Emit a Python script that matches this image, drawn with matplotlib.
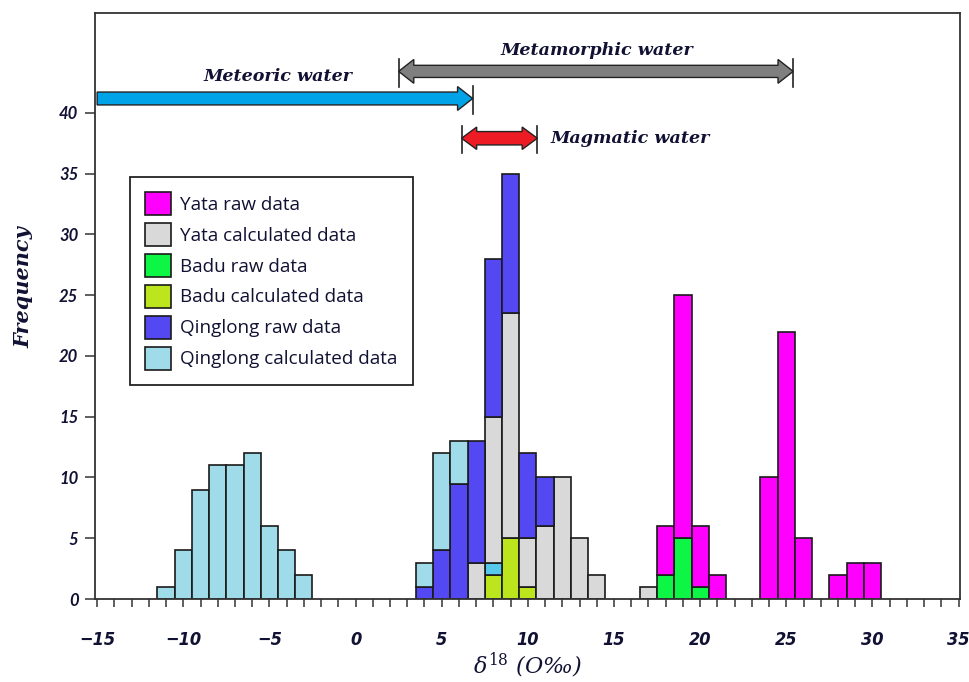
import matplotlib.pyplot as plt
import numpy as np
from matplotlib.patches import Polygon

# bin centres (delta 18O, permil) and counts
bins = np.arange(-12, 32)

yata_raw_x = [18, 19, 20, 21, 24, 25, 26, 28, 29, 30]
yata_raw = [4, 20, 5, 2, 10, 22, 5, 2, 3, 3]
yata_calc_x = [7, 8, 9, 10, 11, 12, 13, 14, 17]
yata_calc = [3, 12, 18.5, 4, 6, 10, 5, 2, 1]
badu_raw_x = [18, 19, 20]
badu_raw = [2, 5, 1]
badu_calc_x = [8, 9, 10]
badu_calc = [2, 5, 1]
qing_raw_x = [4, 5, 6, 7, 8, 9, 10, 11]
qing_raw = [1, 4, 9.5, 10, 13, 11.5, 7, 4]
qing_calc_x = [-11, -10, -9, -8, -7, -6, -5, -4, -3, 4, 5, 6]
qing_calc = [1, 4, 9, 11, 11, 12, 6, 4, 2, 2, 8, 3.5]
extra_x = [8]          # odd bright-cyan segment in the 8 permil bin
extra = [1]

# fluid source ranges
meteoric = (-15, 6.8)
metamorphic = (2.5, 25.4)
magmatic = (6.15, 10.55)


def on_bins(xs, vals):
    out = np.zeros(len(bins))
    for x, v in zip(xs, vals):
        out[np.where(bins == x)[0][0]] = v
    return out


# stacking order bottom -> top
series = [
    (on_bins(badu_calc_x, badu_calc), '#bde51e', 'Badu calculated data'),
    (on_bins(extra_x, extra), '#55c8ec', None),
    (on_bins(yata_calc_x, yata_calc), '#d9d9d9', 'Yata calculated data'),
    (on_bins(badu_raw_x, badu_raw), '#0df545', 'Badu raw data'),
    (on_bins(qing_raw_x, qing_raw), '#5448f2', 'Qinglong raw data'),
    (on_bins(qing_calc_x, qing_calc), '#a0dbea', 'Qinglong calculated data'),
    (on_bins(yata_raw_x, yata_raw), '#ff00ff', 'Yata raw data'),
]

fig = plt.figure(figsize=(9.7, 6.82), dpi=100)
ax = fig.add_axes([0.098, 0.1217, 0.892, 0.8592])

bottom = np.zeros(len(bins))
handles = {}
for vals, col, lab in series:
    m = vals > 0
    b = ax.bar(bins[m], vals[m], width=1.0, bottom=bottom[m], color=col,
               edgecolor='#1a1a1a', linewidth=1.2, zorder=2)
    if lab:
        handles[lab] = b
    bottom += vals

ax.set_xlim(-15.12, 35.1)
ax.set_ylim(0, 48.2)


def double_arrow(x0, x1, y, body, head, hlen, left, right, color):
    pts = []
    if left:
        pts += [(x0, y), (x0 + hlen, y + head), (x0 + hlen, y + body)]
    else:
        pts += [(x0, y + body)]
    if right:
        pts += [(x1 - hlen, y + body), (x1 - hlen, y + head), (x1, y),
                (x1 - hlen, y - head), (x1 - hlen, y - body)]
    else:
        pts += [(x1, y + body), (x1, y - body)]
    if left:
        pts += [(x0 + hlen, y - body), (x0 + hlen, y - head)]
    else:
        pts += [(x0, y - body)]
    ax.add_patch(Polygon(pts, closed=True, facecolor=color, edgecolor='#222222',
                         linewidth=1.0, zorder=4, clip_on=False))


def end_tick(x, y):
    ax.plot([x, x], [y - 1.25, y + 1.0], color='#222222', lw=1.2, zorder=4,
            clip_on=False)


y_met, y_meta, y_mag = 41.17, 43.4, 37.9
double_arrow(meteoric[0], meteoric[1], y_met, 0.53, 0.98, 0.88, False, True, '#00a2e8')
end_tick(meteoric[1], y_met)
double_arrow(metamorphic[0], metamorphic[1], y_meta, 0.5, 0.98, 0.88, True, True, '#7f7f7f')
end_tick(metamorphic[0], y_meta)
end_tick(metamorphic[1], y_meta)
double_arrow(magmatic[0], magmatic[1], y_mag, 0.55, 0.92, 0.88, True, True, '#ed1c24')
end_tick(magmatic[0], y_mag)
end_tick(magmatic[1], y_mag)

lab_font = dict(family='DejaVu Serif', weight='bold', style='italic',
                fontsize=12.6, color='#111133')
ax.text(-4.5, 43.0, 'Meteoric water', ha='center', va='center', **lab_font)
ax.text(14.0, 45.15, 'Metamorphic water', ha='center', va='center', **lab_font)
ax.text(11.3, 37.9, 'Magmatic water', ha='left', va='center', **lab_font)

# axes styling
for s in ax.spines.values():
    s.set_color('#333333')
    s.set_linewidth(1.3)

ax.set_xticks(np.arange(-15, 36, 5))
ax.set_xticks(np.arange(-15, 36, 1), minor=True)
ax.tick_params(axis='x', which='both', direction='out', length=6, width=1.1,
               color='#333333', pad=17)
ax.set_yticks(np.arange(0, 41, 5))
ax.tick_params(axis='y', direction='out', length=7, width=1.1, color='#333333',
               pad=5)
for t in ax.get_xticklabels():
    t.set_fontfamily('DejaVu Sans')
    t.set_fontstretch('condensed')
    t.set_fontweight('bold')
    t.set_fontstyle('italic')
    t.set_fontsize(13)
    t.set_color('#111133')
for t in ax.get_yticklabels():
    t.set_fontfamily(['Lato', 'DejaVu Sans'])
    t.set_fontweight('bold')
    t.set_fontstyle('italic')
    t.set_fontsize(12)
    t.set_color('#111133')

fig.text(23 / 970, 1 - 287 / 682, 'Frequency', rotation=90, ha='center',
         va='center', family='DejaVu Serif', weight='bold', style='italic',
         fontsize=15, color='#111133')
plt.rcParams['mathtext.fontset'] = 'dejavuserif'
fig.text(528 / 970, 1 - 665 / 682, r'$\mathit{\delta}^{\mathit{18}}$ (O‰)',
         ha='center', va='center', family='DejaVu Serif', style='italic',
         fontsize=16, color='#111133')

order = ['Yata raw data', 'Yata calculated data', 'Badu raw data',
         'Badu calculated data', 'Qinglong raw data', 'Qinglong calculated data']
leg = ax.legend([handles[k] for k in order], order, loc='upper left',
                bbox_to_anchor=(0.0405, 0.7207), frameon=True, fancybox=False,
                edgecolor='#222222', framealpha=1,
                prop=dict(family='Open Sans', size=13.6),
                handlelength=1.35, handleheight=1.5, labelspacing=0.42,
                handletextpad=0.5, borderpad=0.8, borderaxespad=0)
leg.get_frame().set_linewidth(1.3)
for t in leg.get_texts():
    t.set_color('#111133')

fig.savefig('out.png', dpi=100)
